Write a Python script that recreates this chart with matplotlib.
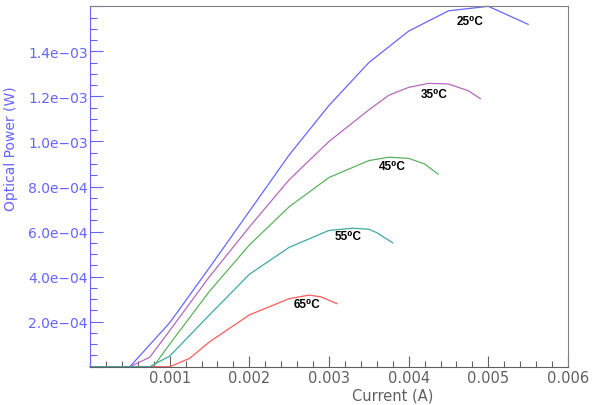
import matplotlib.pyplot as plt
from matplotlib.ticker import MultipleLocator, FuncFormatter

# laser L-I curves at different temperatures
x25 = [0, 0.0005, 0.001, 0.0015, 0.002, 0.0025, 0.003, 0.0035, 0.004, 0.0045, 0.005, 0.0055]
y25 = [0, 0, 1.95e-4, 4.4e-4, 6.9e-4, 9.4e-4, 1.16e-3, 1.35e-3, 1.49e-3, 1.58e-3, 1.60e-3, 1.52e-3]

x35 = [0, 0.0005, 0.00075, 0.001, 0.0015, 0.002, 0.0025, 0.003, 0.0035, 0.00375, 0.004, 0.00425, 0.0045, 0.00475, 0.0049]
y35 = [0, 0, 0.42e-4, 1.6e-4, 4.0e-4, 6.2e-4, 8.3e-4, 1.0e-3, 1.14e-3, 1.205e-3, 1.24e-3, 1.258e-3, 1.255e-3, 1.225e-3, 1.19e-3]

x45 = [0, 0.00075, 0.0008, 0.001, 0.0015, 0.002, 0.0025, 0.003, 0.0035, 0.00375, 0.004, 0.0042, 0.00437]
y45 = [0, 0, 0.03e-4, 1.0e-4, 3.35e-4, 5.4e-4, 7.1e-4, 8.4e-4, 9.15e-4, 9.3e-4, 9.25e-4, 9.0e-4, 8.55e-4]

x55 = [0, 0.00075, 0.001, 0.0015, 0.002, 0.0025, 0.003, 0.0033, 0.0035, 0.0036, 0.0038]
y55 = [0, 0, 0.47e-4, 2.3e-4, 4.1e-4, 5.3e-4, 6.05e-4, 6.15e-4, 6.1e-4, 5.95e-4, 5.5e-4]

x65 = [0, 0.001, 0.00125, 0.0015, 0.002, 0.0025, 0.00275, 0.0029, 0.0031]
y65 = [0, 0, 0.37e-4, 1.1e-4, 2.3e-4, 3.02e-4, 3.18e-4, 3.1e-4, 2.8e-4]

labels = ['25\u2070C', '35\u2070C', '45\u2070C', '55\u2070C', '65\u2070C']
label_x = [0.00477, 0.00432, 0.0038, 0.00324, 0.00272]
label_y = [1.536e-3, 1.211e-3, 8.92e-4, 5.8e-4, 2.79e-4]

blue = '#6464ff'
gray = '#606060'

fig = plt.figure(figsize=(6.02, 4.06), dpi=100)
ax = fig.add_axes([0.1495, 0.0943, 0.794, 0.8877])

ax.plot(x25, y25, color='#6666ff', lw=0.9, clip_on=False)
ax.plot(x35, y35, color='#b468bc', lw=0.9)
ax.plot(x45, y45, color='#5cb25c', lw=0.9)
ax.plot(x65, y65, color='#ff5a5a', lw=0.9)
ax.plot(x55, y55, color='#3fa8a8', lw=0.9)

for i in range(len(labels)):
    ax.text(label_x[i], label_y[i], labels[i], ha='center', va='center', fontsize=8.5,
            fontweight='bold', family=['Liberation Sans', 'DejaVu Sans'])

ax.set_xlim(0, 0.006)
ax.set_ylim(0, 1.6e-3)

ax.xaxis.set_major_locator(MultipleLocator(0.001))
ax.xaxis.set_minor_locator(MultipleLocator(0.0002))
ax.yaxis.set_major_locator(MultipleLocator(2e-4))
ax.yaxis.set_minor_locator(MultipleLocator(0.5e-4))

def xfmt(v, pos):
    if v <= 0 or v > 0.00601:
        return ''
    return '%.3f' % v

def yfmt(v, pos):
    if v <= 1e-6 or v > 1.5e-3:
        return ''
    return ('%.1e' % v).replace('-', '\u2212')

ax.xaxis.set_major_formatter(FuncFormatter(xfmt))
ax.yaxis.set_major_formatter(FuncFormatter(yfmt))

ax.tick_params(axis='x', which='both', direction='in', colors=gray, labelsize=10.5, pad=2.5)
ax.tick_params(axis='x', which='major', length=8, width=0.8)
ax.tick_params(axis='x', which='minor', length=4, width=0.8)
ax.tick_params(axis='y', which='both', direction='in', colors=blue, labelsize=10, pad=1.5)
ax.tick_params(axis='y', which='major', length=9, width=0.8)
ax.tick_params(axis='y', which='minor', length=5, width=0.8)

ax.spines['left'].set_color(blue)
ax.spines['bottom'].set_color(gray)
ax.spines['top'].set_color('#808080')
ax.spines['right'].set_color('#808080')

ax.set_xlabel('Current (A)', color=gray, fontsize=10.5)
ax.set_ylabel('Optical Power (W)', color=blue, fontsize=10)
ax.xaxis.set_label_coords(0.634, -0.058)
ax.yaxis.set_label_coords(-0.151, 0.607)

plt.savefig('out.png', dpi=100)
